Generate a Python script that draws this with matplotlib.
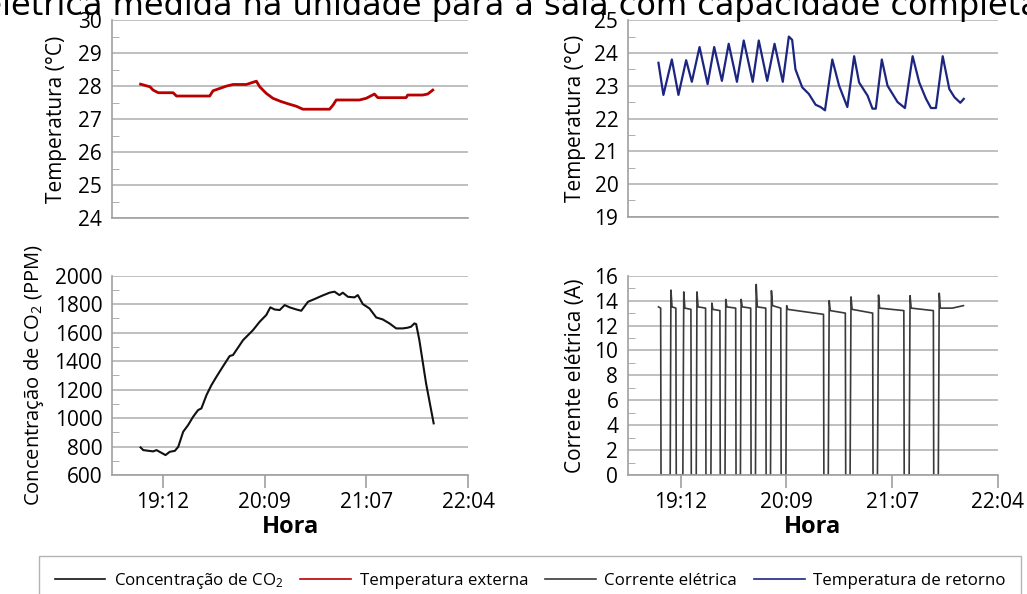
import matplotlib
matplotlib.use('Agg')
import matplotlib.pyplot as plt
from matplotlib.ticker import MultipleLocator, FixedLocator
from matplotlib.lines import Line2D

# time axis, minutes since midnight
hour_ticks = [1152.0, 1209.6, 1267.2, 1324.8]
hour_labels = ['19:12', '20:09', '21:07', '22:04']

# Temperatura externa (red)
ext_time = [1139.4, 1144.7, 1146.5, 1149.4, 1157.8, 1159.7, 1169.1, 1178.5, 1180.4,
            1184.2, 1187.9, 1191.7, 1199.2, 1204.9, 1206.8, 1210.5, 1214.3, 1219.0,
            1223.7, 1227.5, 1231.2, 1246.3, 1248.2, 1250.1, 1263.2, 1267.0, 1271.7,
            1273.6, 1289.6, 1290.5, 1299.0, 1301.8, 1304.7]
ext_temp = [28.06, 27.98, 27.88, 27.8, 27.8, 27.7, 27.7, 27.7, 27.86,
            27.93, 28.0, 28.05, 28.05, 28.15, 27.98, 27.78, 27.63, 27.53,
            27.45, 27.39, 27.3, 27.3, 27.42, 27.58, 27.58, 27.63, 27.76,
            27.65, 27.65, 27.73, 27.73, 27.76, 27.88]

# Temperatura de retorno (blue)
ret_time = [1139.8, 1142.5, 1147.1, 1150.7, 1154.9, 1158.0, 1162.2, 1166.6, 1170.2,
            1174.4, 1178.1, 1182.6, 1186.3, 1191.2, 1194.5, 1199.1, 1203.1, 1207.6,
            1210.9, 1212.7, 1214.5, 1218.2, 1221.8, 1225.5, 1228.2, 1230.6, 1234.6,
            1238.3, 1242.8, 1246.5, 1249.2, 1253.8, 1256.5, 1258.3, 1261.6, 1264.7,
            1270.2, 1274.2, 1278.4, 1282.0, 1285.7, 1288.4, 1291.1, 1294.8, 1298.4,
            1301.2, 1304.4, 1306.3]
ret_temp = [23.7, 22.72, 23.8, 22.72, 23.78, 23.12, 24.18, 23.05, 24.18,
            23.15, 24.28, 23.12, 24.38, 23.12, 24.38, 23.15, 24.28, 23.12,
            24.5, 24.4, 23.5, 22.95, 22.75, 22.42, 22.35, 22.25, 23.8,
            23.0, 22.35, 23.9, 23.1, 22.7, 22.3, 22.3, 23.8, 23.0,
            22.5, 22.32, 23.9, 23.1, 22.6, 22.32, 22.32, 23.9, 22.9,
            22.65, 22.48, 22.6]

# Concentracao de CO2
co2_time = [1139.4, 1140.9, 1146.5, 1148.4, 1151.2, 1153.5, 1155.9, 1158.8, 1160.7,
            1163.5, 1166.3, 1169.1, 1171.9, 1173.8, 1176.7, 1179.5, 1182.3, 1186.1,
            1189.8, 1191.7, 1193.6, 1197.4, 1200.2, 1203.0, 1206.8, 1210.5, 1212.8,
            1215.2, 1218.1, 1220.9, 1223.7, 1227.5, 1230.3, 1234.1, 1237.8, 1241.6,
            1246.3, 1249.1, 1251.9, 1253.8, 1256.7, 1260.4, 1262.3, 1265.1, 1268.9,
            1272.7, 1276.4, 1280.2, 1284.0, 1287.7, 1290.5, 1292.4, 1294.3, 1295.3,
            1297.1, 1300.9, 1305.2]
co2_ppm = [794, 775, 766, 775, 756, 740, 763, 770, 798,
           904, 951, 1009, 1056, 1068, 1162, 1232, 1290, 1365,
           1436, 1443, 1478, 1548, 1583, 1618, 1677, 1724, 1778,
           1763, 1759, 1794, 1778, 1763, 1754, 1817, 1836, 1857,
           1881, 1888, 1864, 1881, 1852, 1848, 1864, 1801, 1770,
           1707, 1693, 1665, 1630, 1630, 1635, 1642, 1665, 1660,
           1548, 1244, 963]

# Corrente eletrica
cur_time = [1139.8, 1141.0, 1141.2, 1146.2,
            1146.6, 1147.2, 1149.3, 1149.5, 1153.1,
            1153.6, 1154.2, 1157.5, 1157.7, 1160.4,
            1160.8, 1161.4, 1165.5, 1165.7, 1168.4,
            1168.9, 1169.5, 1173.3, 1173.5, 1176.1,
            1176.5, 1177.1, 1181.9, 1182.1, 1184.5,
            1184.9, 1185.5, 1190.1, 1190.3, 1192.7,
            1193.1, 1193.7, 1198.3, 1198.5, 1200.9,
            1201.4, 1202.0, 1206.5, 1206.7, 1209.3,
            1209.7, 1210.3, 1220.0, 1229.8, 1230.0, 1232.4,
            1232.9, 1233.5, 1241.7, 1241.9, 1244.3,
            1244.8, 1245.4, 1256.6, 1256.8, 1259.2,
            1259.8, 1260.4, 1273.6, 1273.8, 1276.5,
            1277.0, 1277.6, 1289.7, 1289.9, 1292.4,
            1292.9, 1293.5, 1300.0, 1306.1]
cur_amp = [13.5, 13.4, 0, 0,
           14.85, 13.5, 13.4, 0, 0,
           14.7, 13.4, 13.3, 0, 0,
           14.7, 13.5, 13.4, 0, 0,
           13.8, 13.3, 13.2, 0, 0,
           14.1, 13.5, 13.4, 0, 0,
           14.1, 13.5, 13.4, 0, 0,
           15.3, 13.5, 13.4, 0, 0,
           14.8, 13.6, 13.4, 0, 0,
           13.6, 13.3, 13.1, 12.9, 0, 0,
           14.0, 13.2, 13.0, 0, 0,
           14.3, 13.3, 13.0, 0, 0,
           14.45, 13.4, 13.2, 0, 0,
           14.4, 13.4, 13.2, 0, 0,
           14.6, 13.4, 13.4, 13.6]

legend_labels = ['Concentração de $\\mathregular{CO_2}$', 'Temperatura externa',
                 'Corrente elétrica', 'Temperatura de retorno']

plt.rcParams['font.family'] = ['Open Sans', 'DejaVu Sans']

RED = '#b80000'
BLUE = '#1c2580'
BLACK = '#111111'
GREY = '#3a3a3a'
GRID = '#b4b4b4'


def style_axis(ax, ymin, ymax, step, show_x):
    """Excel-like look: grey left/bottom spines, horizontal grid, inner minor ticks."""
    ax.set_xlim(1123.2, 1324.8)
    ax.set_ylim(ymin, ymax)
    ax.yaxis.set_major_locator(MultipleLocator(step))
    ax.yaxis.set_minor_locator(MultipleLocator(step / 2))
    ax.grid(axis='y', color=GRID, lw=1.2)
    ax.set_axisbelow(True)
    for side in ['top', 'right']:
        ax.spines[side].set_visible(False)
    for side in ['left', 'bottom']:
        ax.spines[side].set_color('#a0a0a0')
        ax.spines[side].set_linewidth(1.2)
    ax.tick_params(axis='y', which='major', length=0, labelsize=15, pad=7)
    ax.tick_params(axis='y', which='minor', direction='in', length=5, color='#a0a0a0')
    ax.xaxis.set_major_locator(FixedLocator(hour_ticks))
    if show_x:
        ax.set_xticklabels(hour_labels)
        ax.tick_params(axis='x', length=9, width=1.2, color='#a0a0a0', labelsize=15, pad=3)
        ax.set_xlabel('Hora', fontsize=17, fontweight='bold', labelpad=2)
    else:
        ax.tick_params(axis='x', length=0, labelbottom=False)


fig = plt.figure(figsize=(10.27, 5.94), dpi=100)

# top left: external temperature
ax1 = fig.add_axes([0.109, 0.633, 0.347, 0.333])
ax1.plot(ext_time, ext_temp, color=RED, lw=2.0)
style_axis(ax1, 24, 30, 1, False)
ax1.set_ylabel('Temperatura (°C)', fontsize=15, labelpad=8)

# top right: return temperature
ax2 = fig.add_axes([0.6115, 0.635, 0.360, 0.331])
ax2.plot(ret_time, ret_temp, color=BLUE, lw=1.6)
style_axis(ax2, 19, 25, 1, False)
ax2.set_ylabel('Temperatura (°C)', fontsize=15, labelpad=6)

# bottom left: CO2
ax3 = fig.add_axes([0.109, 0.2003, 0.347, 0.3355])
ax3.plot(co2_time, co2_ppm, color=BLACK, lw=1.5)
style_axis(ax3, 600, 2000, 200, True)
ax3.set_ylabel('Concentração de $\\mathregular{CO_2}$ (PPM)', fontsize=14.5, labelpad=6)

# bottom right: electric current
ax4 = fig.add_axes([0.6115, 0.2003, 0.360, 0.3355])
ax4.plot(cur_time, cur_amp, color=GREY, lw=1.2)
style_axis(ax4, 0, 16, 2, True)
ax4.set_ylabel('Corrente elétrica (A)', fontsize=15, labelpad=6)

# title, cut by the top edge as in the source image
fig.text(1.012, 0.975,
         'Corrente elétrica medida na unidade para a sala com capacidade completa',
         fontsize=23.0, ha='right', va='baseline', family=['DejaVu Sans'])

# shared legend at the bottom
handles = [Line2D([], [], color=c, lw=1.2) for c in [BLACK, RED, GREY, BLUE]]
leg = fig.legend(handles, legend_labels, loc='lower left', bbox_to_anchor=(0.03, -0.035),
                 ncol=4, fontsize=12.2, frameon=True, fancybox=False,
                 handlelength=3.0, handletextpad=0.5, columnspacing=1.0, borderpad=0.9)
leg.get_frame().set_edgecolor('#a0a0a0')
leg.get_frame().set_linewidth(1.0)

fig.savefig('out.png', dpi=100)
